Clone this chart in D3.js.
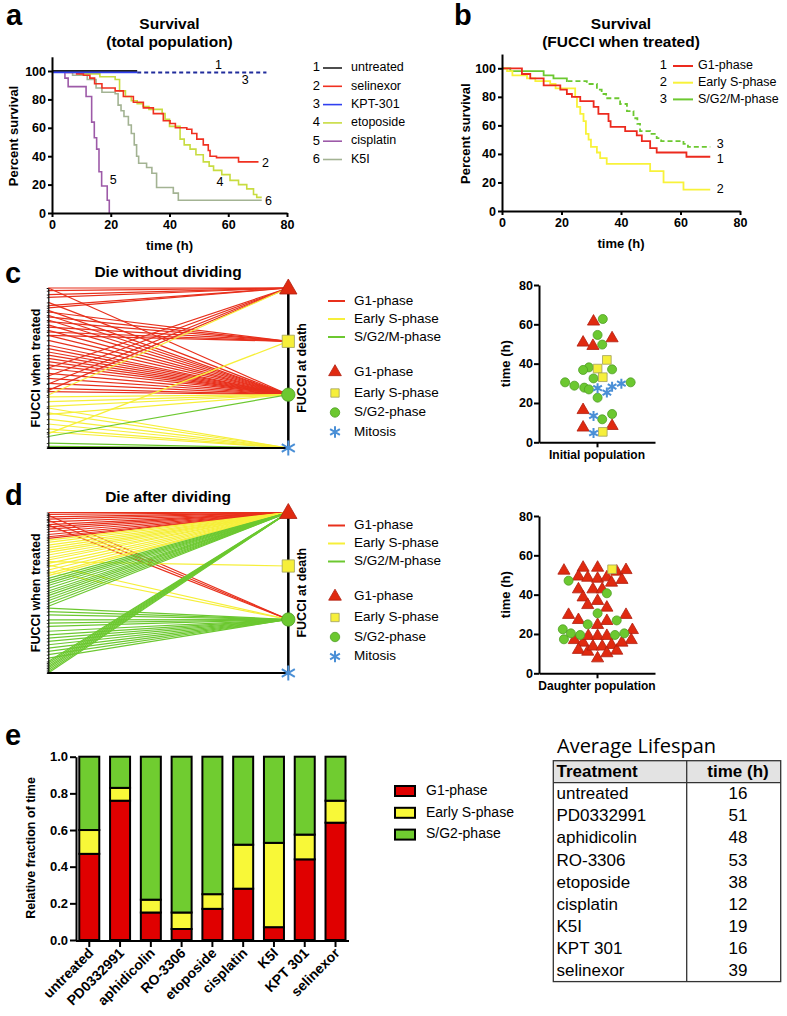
<!DOCTYPE html>
<html>
<head>
<meta charset="utf-8">
<script src="https://cdn.jsdelivr.net/npm/d3@7"></script>
<style>
body { margin: 0; background: #fff; }
svg { font-family: "Liberation Sans", Arial, sans-serif; }
</style>
</head>
<body>
<div id="fig"></div>
<script>
// ---------- panel a: survival, total population ([time h, % survival]) ----------
const untreatedA = [[0, 100], [29, 100]];
const kpt301A = [[0, 99], [29, 99]];
const kpt301CensA = [[29, 99], [73, 99]];
const selinexorA = [[0, 100], [5, 99], [8.4, 98], [10.7, 97], [12.9, 95], [14.5, 91], [17, 88], [21.5, 86], [24.3, 82], [27.7, 78], [31.1, 74], [34.5, 70], [37.9, 65], [40.2, 63], [42, 60], [45.9, 59], [47.6, 56], [49.3, 52], [51.5, 48], [53.2, 44], [53.8, 40], [56, 39], [63.5, 36], [70.3, 36]];
const etoposideA = [[0, 100], [9.5, 98], [16.3, 96], [21.5, 94], [23, 86], [25, 82], [27, 79], [29, 77], [31, 75], [33, 73], [37.5, 70], [38.5, 66], [40, 61], [43.6, 52], [45, 48], [47, 45], [49, 41], [51.5, 36], [53.5, 33], [55, 30], [57.8, 27], [60.6, 23], [63.5, 20], [66.3, 17], [68.6, 13], [69.7, 11], [71.4, 11]];
const cisplatinA = [[0, 100], [4.4, 95], [5.5, 89], [11.6, 82], [13.5, 64], [14.4, 53], [15.2, 45], [16, 29], [16.9, 19], [18.8, 9], [19.5, 0]];
const k5iA = [[0, 100], [7, 97], [12, 94], [15, 88], [17, 85], [21.5, 84], [22.5, 76], [23.5, 72], [24.5, 68], [26, 62], [27, 56], [28, 48], [28.8, 40], [29.5, 35], [32.2, 32], [34, 28], [35.6, 18], [41.3, 14], [43, 9], [71.4, 9]];
const legendA = ["untreated", "selinexor", "KPT-301", "etoposide", "cisplatin", "K5I"];
const curveLabelsA = [["1", 55.5, 104], ["2", 71.5, 35], ["3", 64.6, 93], ["4", 56, 21], ["5", 19.7, 23], ["6", 72.5, 8]];

// ---------- panel b: survival by FUCCI when treated ----------
const g1B = [[0, 100], [6.7, 96], [9.5, 93], [14, 88], [19.6, 85], [21.8, 82], [23.5, 80], [26.3, 77], [30.8, 73], [32.4, 68], [35.8, 63], [36.5, 59], [41.4, 56], [45.3, 53], [47, 49], [49.8, 44], [52, 41], [62, 38], [70, 38]];
const earlySB = [[0, 100], [1.7, 98], [3.5, 95], [8.4, 93], [11.2, 91], [16.2, 89], [18, 86], [24.6, 80], [25.2, 73], [26.3, 68], [27.4, 63], [28.2, 54], [29.1, 50], [29.9, 45], [31.9, 41], [33, 37], [35.2, 33], [49.8, 28], [54.3, 20], [61, 15], [70, 15]];
const sg2mB = [[0, 100], [2.8, 98], [14, 95], [17.3, 93], [21.8, 91], [28.5, 89], [31.9, 85], [33.5, 82], [35, 79], [39.7, 75], [42, 70], [44.2, 65], [45.5, 61], [46.4, 56], [49.8, 54], [52, 51], [53.5, 49], [61, 47], [62.5, 45], [70, 45]];
const sg2mDashFrom = 22;
const legendB = ["G1-phase", "Early S-phase", "S/G2/M-phase"];
const curveLabelsB = [["1", 72.2, 36], ["2", 72.2, 15], ["3", 72.2, 46.5]];

// ---------- panels c, d: FUCCI when treated (left %, top=0) -> FUCCI at death ----------
const deathPhases = ["G1", "S", "SG2", "M"];
const cLinesG1 = [[0, "G1"], [1.7, "G1"], [4.1, "G1"], [5.8, "G1"], [11, "G1"], [12.4, "G1"], [50, "G1"], [55, "G1"], [60, "G1"], [64, "G1"],
  [15, "S"], [18, "S"], [21, "S"], [24.4, "S"], [27.5, "S"], [29.6, "S"],
  [0, "SG2"], [9, "SG2"], [14, "SG2"], [17, "SG2"], [20, "SG2"], [23, "SG2"], [26.5, "SG2"], [29.6, "SG2"], [32.7, "SG2"], [35.8, "SG2"], [37.9, "SG2"], [40, "SG2"], [42, "SG2"], [44, "SG2"], [46, "SG2"], [48, "SG2"], [50.3, "SG2"], [53.4, "SG2"], [56.5, "SG2"], [59.6, "SG2"], [62.7, "SG2"], [64.8, "SG2"]];
const cLinesES = [[66.9, "G1"], [91, "S"], [68, "SG2"], [71, "SG2"], [74, "SG2"], [79, "SG2"], [75, "M"], [78, "M"], [82, "M"], [85, "M"], [88, "M"], [90, "M"]];
const cLinesSG2 = [[92.8, "SG2"], [96.9, "M"], [99, "M"], [100, "M"]];

const dLinesG1 = [[0, "G1"], [1.2, "G1"], [2.7, "G1"], [4.1, "G1"], [5.8, "G1"], [7.5, "G1"], [8.9, "G1"], [10.4, "G1"], [12, "G1"], [13.7, "G1"], [15.1, "G1"], [16.1, "G1"],
  [1.7, "SG2"], [4.8, "SG2"], [7.9, "SG2"]];
const dLinesES = [[17.2, "G1"], [18.6, "G1"], [20.3, "G1"], [21.9, "G1"], [23.4, "G1"], [24.8, "G1"], [26.5, "G1"], [28.2, "G1"], [29.6, "G1"], [31.7, "G1"], [33.7, "G1"], [35.8, "G1"], [37.9, "G1"], [39.3, "G1"],
  [30.6, "S"], [32.7, "SG2"], [36.9, "SG2"]];
const dLinesSG2 = [[41, "G1"], [42.6, "G1"], [44, "G1"], [45.5, "G1"], [47.2, "G1"], [48.9, "G1"], [50.3, "G1"], [51.8, "G1"], [53.4, "G1"], [55, "G1"], [56.7, "G1"], [58.4, "G1"],
  [92.8, "G1"], [93.8, "G1"], [94.8, "G1"], [95.9, "G1"], [96.9, "G1"], [97.9, "G1"], [99, "G1"], [100, "G1"],
  [59.6, "SG2"], [61.7, "SG2"], [63.8, "SG2"], [66.9, "SG2"], [68.9, "SG2"], [71, "SG2"], [74, "SG2"], [76.2, "SG2"], [78.3, "SG2"], [80.3, "SG2"], [82.4, "SG2"], [84.5, "SG2"], [86.5, "SG2"], [88.6, "SG2"], [90.7, "SG2"]];
const lineLegend = ["G1-phase", "Early S-phase", "S/G2/M-phase"];
const markerLegend = ["G1-phase", "Early S-phase", "S/G2-phase", "Mitosis"];

// ---------- swarm plots: [jitter (-1..1), time h] ----------
const swC_G1 = [[-0.06, 61.4], [-0.24, 50.7], [-0.07, 49], [0.26, 52.9], [-0.24, 16.4], [-0.24, 7.5], [0.26, 8.3]];
const swC_ES = [[0.17, 41.9], [0.01, 37.5], [0.10, 33.1], [0.10, 5.3]];
const swC_SG2 = [[0.10, 62.7], [0.01, 54.6], [0.09, 49.7], [-0.14, 38.1], [-0.24, 36.8], [0.26, 37.1], [-0.06, 32.5], [-0.55, 30.5], [-0.39, 28.8], [-0.22, 27.8], [-0.14, 26.9], [0.01, 22.7], [0.09, 11.7], [0.26, 14.4], [0.58, 30.5]];
const swC_M = [[0.01, 27.5], [0.17, 25.3], [0.26, 28.3], [0.42, 29.8], [-0.06, 13.4], [-0.06, 4.7]];

const swD_G1 = [[-0.57, 52.2], [-0.24, 53.7], [0.01, 53.7], [0.34, 51.7], [0.50, 52.5], [-0.32, 49.2], [-0.16, 48.6], [0.01, 48.1], [0.17, 48.8], [0.25, 46.1], [0.43, 47.5],
  [-0.32, 42.7], [-0.07, 42.7], [0.09, 42.7], [-0.24, 38.6], [0.01, 36.8], [-0.16, 34.7], [0.17, 33.4], [-0.49, 29.7], [-0.32, 27.1], [0.01, 24.6], [0.17, 26.6], [0.50, 29.7],
  [-0.39, 16.9], [-0.24, 15.6], [-0.15, 19], [0.01, 19], [0.17, 19], [0.61, 22], [0.59, 16.9], [-0.32, 11.9], [-0.16, 11], [-0.07, 13.6], [0.09, 13.6], [0.25, 14.4], [0.17, 10.2], [0.34, 11.5], [0.43, 15.6], [0.01, 7.6]];
const swD_ES = [[0.26, 52.9]];
const swD_SG2 = [[-0.49, 47.1], [0.17, 40.7], [0.01, 30.5], [-0.16, 24.9], [0.34, 26.9], [-0.59, 22.4], [-0.45, 20.3], [-0.29, 19.5], [-0.57, 17.3], [0.31, 19.5], [0.47, 20.3]];

// ---------- panel e ----------
const treatments = ["untreated", "PD0332991", "aphidicolin", "RO-3306", "etoposide", "cisplatin", "K5I", "KPT 301", "selinexor"];
const fracG1 = [0.47, 0.76, 0.15, 0.06, 0.17, 0.28, 0.07, 0.44, 0.64];
const fracES = [0.13, 0.07, 0.07, 0.09, 0.08, 0.24, 0.46, 0.135, 0.12];
const fracSG2 = [0.40, 0.17, 0.78, 0.85, 0.75, 0.48, 0.47, 0.425, 0.24];
const barLegend = ["G1-phase", "Early S-phase", "S/G2-phase"];
const lifespan = [16, 51, 48, 53, 38, 12, 19, 16, 39];

// ---------- colours ----------
const RED = "#e8301c", YEL = "#f6ef3a", GRN = "#6cc830", BLUE = "#4a8fd6";

const svg = d3.select("#fig").append("svg").attr("width", 787).attr("height", 1016);

function styleAxis(sel, fs) {
  sel.attr("font-family", null);
  sel.select(".domain").attr("stroke", "#000").attr("stroke-width", 2);
  sel.selectAll(".tick line").attr("stroke", "#000").attr("stroke-width", 2);
  sel.selectAll(".tick text").attr("font-size", fs).attr("font-weight", "bold").attr("fill", "#000");
}

function txt(x, y, s, o = {}) {
  const t = svg.append("text").attr("x", x).attr("y", y).text(s)
    .attr("font-size", o.size || 12).attr("font-weight", o.bold ? "bold" : null)
    .attr("text-anchor", o.anchor || "start").attr("dominant-baseline", o.base || "middle");
  if (o.rot) t.attr("transform", `rotate(${o.rot},${x},${y})`);
  if (o.family) t.attr("font-family", o.family);
  return t;
}

// panel letters
[["a", 6, 25], ["b", 454, 25], ["c", 5, 283], ["d", 5, 505], ["e", 5, 745]].forEach(([l, x, y]) =>
  txt(x, y, l, { size: 29, bold: true, base: "alphabetic" }));

// ---------- survival panels ----------
function survival(o) {
  const x = d3.scaleLinear().domain([0, 80]).range([o.x0, o.x1]);
  const y = d3.scaleLinear().domain([0, 100]).range([o.yb, o.yt]);
  const line = d3.line().x(d => x(d[0])).y(d => y(d[1])).curve(d3.curveStepAfter);
  o.series.forEach(s => svg.append("path").attr("d", line(s.data)).attr("fill", "none")
    .attr("stroke", s.color).attr("stroke-width", s.w || 1.6).attr("stroke-dasharray", s.dash || null));
  const ax = svg.append("g").attr("transform", `translate(0,${o.yb})`)
    .call(d3.axisBottom(x).tickValues([0, 20, 40, 60, 80]).tickSize(4).tickPadding(3).tickSizeOuter(0));
  styleAxis(ax, 12.5);
  const ay = svg.append("g").attr("transform", `translate(${o.x0},0)`)
    .call(d3.axisLeft(y.copy().domain([0, 110]).range([o.yb, o.yb - (o.yb - o.yt) * 1.1]))
      .tickValues([0, 20, 40, 60, 80, 100]).tickSize(4).tickPadding(2).tickSizeOuter(0));
  styleAxis(ay, 12.5);
  txt((o.x0 + o.x1) / 2, o.title1Y, o.title[0], { size: 15.5, bold: true, anchor: "middle" });
  txt((o.x0 + o.x1) / 2, o.title1Y + 18, o.title[1], { size: 15.5, bold: true, anchor: "middle" });
  txt((o.x0 + o.x1) / 2, o.yb + 34, "time (h)", { size: 13, bold: true, anchor: "middle" });
  txt(o.ylabX, (o.yb + o.yt) / 2 - 6, "Percent survival", { size: 13, bold: true, anchor: "middle", rot: -90 });
  o.labels.forEach(([s, t, v]) => txt(x(t), y(v), s, { size: 12.5 }));
}

survival({
  x0: 52, x1: 287, yb: 213, yt: 71, title1Y: 25, ylabX: 15,
  title: ["Survival", "(total population)"],
  series: [
    { data: k5iA, color: "#a3b393" },
    { data: etoposideA, color: "#c8dc40" },
    { data: selinexorA, color: "#f03020" },
    { data: cisplatinA, color: "#9d5aa8" },
    { data: untreatedA, color: "#222", w: 1.8 },
    { data: kpt301A, color: "#3040f0", w: 1.8 },
    { data: kpt301CensA, color: "#202c9c", w: 2, dash: "4,3" }
  ],
  labels: curveLabelsA
});

// legend a
const colA = ["#222", "#f03020", "#3040f0", "#c8dc40", "#9d5aa8", "#a3b393"];
legendA.forEach((name, i) => {
  const yy = 68 + i * 18.3;
  txt(320, yy, String(i + 1), { size: 13, anchor: "end" });
  svg.append("line").attr("x1", 323).attr("x2", 342).attr("y1", yy).attr("y2", yy).attr("stroke", colA[i]).attr("stroke-width", 1.6);
  txt(351, yy, name, { size: 12.5 });
});

const sg2mSolid = sg2mB.filter(d => d[0] < sg2mDashFrom);
sg2mSolid.push([sg2mDashFrom, sg2mSolid[sg2mSolid.length - 1][1]]);
survival({
  x0: 502, x1: 740, yb: 211, yt: 68.3, title1Y: 25, ylabX: 467,
  title: ["Survival", "(FUCCI when treated)"],
  series: [
    { data: sg2mB.filter(d => d[0] >= sg2mDashFrom - 0.2).map((d, i) => i === 0 ? [sg2mDashFrom, sg2mSolid[sg2mSolid.length - 1][1]] : d), color: GRN, w: 1.8, dash: "5,3" },
    { data: sg2mSolid, color: GRN, w: 1.8 },
    { data: earlySB, color: "#f8f23a", w: 1.8 },
    { data: g1B, color: "#ec2a1e", w: 1.8 }
  ],
  labels: curveLabelsB
});
const colB = ["#ec2a1e", "#f8f23a", GRN];
legendB.forEach((name, i) => {
  const yy = 66 + i * 16.7;
  txt(667, yy, String(i + 1), { size: 13, anchor: "end" });
  svg.append("line").attr("x1", 673).attr("x2", 693).attr("y1", yy).attr("y2", yy).attr("stroke", colB[i]).attr("stroke-width", 2);
  txt(698, yy, name, { size: 12.5 });
});

// ---------- symbols ----------
function marker(kind, x, y, size) {
  const types = { G1: d3.symbolTriangle, S: d3.symbolSquare, SG2: d3.symbolCircle, M: d3.symbolAsterisk };
  const fill = { G1: "#e02a10", S: YEL, SG2: GRN, M: "none" };
  const stroke = { G1: "#b02010", S: "#a0a060", SG2: "#4f9e25", M: BLUE };
  svg.append("path").attr("d", d3.symbol(types[kind], size)())
    .attr("transform", `translate(${x},${y})`)
    .attr("fill", fill[kind]).attr("stroke", stroke[kind]).attr("stroke-width", kind === "M" ? 2 : 0.8);
}

// ---------- transition panels ----------
function transitions(o) {
  const x = d3.scaleLinear().domain([0, 1]).range([48.3, 288.3]);
  const yL = d3.scaleLinear().domain([0, 100]).range([o.top, o.bottom]);
  const yR = d3.scalePoint().domain(deathPhases).range([o.top, o.bottom]);
  o.groups.forEach(gr => gr.lines.forEach(([p, d]) =>
    svg.append("line").attr("x1", x(0)).attr("y1", yL(p)).attr("x2", x(1)).attr("y2", yR(d))
      .attr("stroke", gr.color).attr("stroke-width", 1.2)));
  const allPos = o.groups.flatMap(g => g.lines.map(l => l[0]));
  const al = svg.append("g").attr("transform", `translate(${x(0)},0)`)
    .call(d3.axisLeft(yL).tickValues(allPos).tickSize(1.5).tickFormat("").tickSizeOuter(0));
  al.select(".domain").attr("stroke", "#000").attr("stroke-width", 1.2);
  al.selectAll(".tick line").attr("stroke", "#000").attr("stroke-width", 0.8);
  svg.append("line").attr("x1", x(0) - 1).attr("x2", x(1)).attr("y1", o.bottom).attr("y2", o.bottom).attr("stroke", "#000").attr("stroke-width", 2);
  svg.append("line").attr("x1", x(1)).attr("x2", x(1)).attr("y1", o.top).attr("y2", o.bottom).attr("stroke", "#000").attr("stroke-width", 2.5);
  const big = { G1: 130, S: 150, SG2: 140, M: 160 };
  deathPhases.forEach(p => marker(p, x(1), yR(p) + (p === "G1" ? 1 : 0), big[p]));
  txt(168, o.top - 15, o.title, { size: 15.5, bold: true, anchor: "middle" });
  const mid = (o.top + o.bottom) / 2;
  txt(37, mid, "FUCCI when treated", { size: 12.5, bold: true, anchor: "middle", rot: -90 });
  txt(303, mid, "FUCCI at death", { size: 12.5, bold: true, anchor: "middle", rot: -90 });
  // legend
  const rows = [13, 31, 49, 84, 105, 124.5, 144];
  [RED, YEL, GRN].forEach((c, i) => {
    const yy = o.top + rows[i];
    svg.append("line").attr("x1", 328).attr("x2", 345).attr("y1", yy).attr("y2", yy).attr("stroke", c).attr("stroke-width", 2);
    txt(354, yy, lineLegend[i], { size: 13.5 });
  });
  deathPhases.forEach((p, i) => {
    const yy = o.top + rows[i + 3];
    marker(p, 335, yy, p === "M" ? 90 : 70);
    txt(354, yy, markerLegend[i], { size: 13.5 });
  });
}

transitions({ top: 288, bottom: 448, title: "Die without dividing",
  groups: [{ color: RED, lines: cLinesG1 }, { color: YEL, lines: cLinesES }, { color: GRN, lines: cLinesSG2 }] });
transitions({ top: 512.5, bottom: 673, title: "Die after dividing",
  groups: [{ color: RED, lines: dLinesG1 }, { color: YEL, lines: dLinesES }, { color: GRN, lines: dLinesSG2 }] });

// ---------- swarm panels ----------
function swarm(o) {
  const x = d3.scaleLinear().domain([-1, 1]).range([539, 655]);
  const y = d3.scaleLinear().domain([0, 80]).range([o.y0, o.y80]);
  const ax = svg.append("g").attr("transform", `translate(0,${o.y0})`)
    .call(d3.axisBottom(x).tickValues([0]).tickFormat("").tickSize(5).tickSizeOuter(0));
  styleAxis(ax, 11);
  const ay = svg.append("g").attr("transform", "translate(539,0)")
    .call(d3.axisLeft(y).tickValues([0, 20, 40, 60, 80]).tickSize(5).tickPadding(1).tickSizeOuter(0));
  styleAxis(ay, 12.5);
  txt(597, o.y0 + 14, o.label, { size: 12, bold: true, anchor: "middle" });
  txt(507, (o.y0 + o.y80) / 2, "time (h)", { size: 13, bold: true, anchor: "middle", rot: -90 });
  o.sets.forEach(([kind, pts]) => pts.forEach(d => marker(kind, x(d[0]), y(d[1]), kind === "M" ? 70 : kind === "S" ? 75 : 64)));
}
swarm({ y0: 442.3, y80: 285, label: "Initial population", sets: [["SG2", swC_SG2], ["G1", swC_G1], ["S", swC_ES], ["M", swC_M]] });
swarm({ y0: 673.3, y80: 516, label: "Daughter population", sets: [["G1", swD_G1], ["SG2", swD_SG2], ["S", swD_ES]] });

// ---------- panel e bars ----------
const xb = d3.scaleBand().domain(treatments).range([76.2, 348.6]).paddingInner(0.35).paddingOuter(0.1);
const yb = d3.scaleLinear().domain([0, 1]).range([940, 756.7]);
const stacks = d3.stack().keys(["g1", "es", "sg2"])(treatments.map((t, i) => ({ t, g1: fracG1[i], es: fracES[i], sg2: fracSG2[i] })));
const barCol = ["#e00000", "#f8f838", "#70cc30"];
stacks.forEach((layer, li) => {
  svg.append("g").selectAll("rect").data(layer).join("rect")
    .attr("x", d => xb(d.data.t)).attr("width", xb.bandwidth())
    .attr("y", d => yb(d[1])).attr("height", d => yb(d[0]) - yb(d[1]))
    .attr("fill", barCol[li]).attr("stroke", "#000").attr("stroke-width", 2);
});
const axE = svg.append("g").attr("transform", "translate(0,941)")
  .call(d3.axisBottom(xb).tickSize(6).tickSizeOuter(0));
styleAxis(axE, 14);
axE.select(".domain").attr("d", "M76,0H349");
axE.selectAll(".tick text").attr("text-anchor", "end").attr("dy", null)
  .attr("transform", "translate(5,13) rotate(-45)").attr("y", 0).attr("x", 0);
const ayE = svg.append("g").attr("transform", "translate(76,0)")
  .call(d3.axisLeft(yb).tickValues([0, 0.2, 0.4, 0.6, 0.8, 1]).tickFormat(d3.format(".1f")).tickSize(6).tickPadding(2).tickSizeOuter(0));
styleAxis(ayE, 13);
txt(32, 848, "Relative fraction of time", { size: 12.5, bold: true, anchor: "middle", rot: -90 });

barLegend.forEach((name, i) => {
  const yy = 791 + i * 21.8;
  svg.append("rect").attr("x", 395).attr("y", yy - 5).attr("width", 20).attr("height", 10)
    .attr("fill", barCol[i]).attr("stroke", "#000").attr("stroke-width", 2);
  txt(426, yy, name, { size: 14 });
});

// ---------- lifespan table ----------
const tx0 = 553.3, tx1 = 780.7, txm = 686.7, ty0 = 760.7, tyh = 782.7, rowH = 22.1;
const ty1 = tyh + rowH * treatments.length;
txt(557, 748, "Average Lifespan", { size: 20, family: "'Open Sans', sans-serif" });
svg.append("rect").attr("x", tx0).attr("y", ty0).attr("width", tx1 - tx0).attr("height", tyh - ty0).attr("fill", "#e3e3e3");
svg.append("rect").attr("x", tx0).attr("y", ty0).attr("width", tx1 - tx0).attr("height", ty1 - ty0)
  .attr("fill", "none").attr("stroke", "#333").attr("stroke-width", 1.3);
svg.append("line").attr("x1", tx0).attr("x2", tx1).attr("y1", tyh).attr("y2", tyh).attr("stroke", "#333").attr("stroke-width", 1.3);
svg.append("line").attr("x1", txm).attr("x2", txm).attr("y1", ty0).attr("y2", ty1).attr("stroke", "#333").attr("stroke-width", 1.3);
txt(556.5, (ty0 + tyh) / 2 + 1, "Treatment", { size: 17, bold: true });
txt(738, (ty0 + tyh) / 2 + 1, "time (h)", { size: 17, bold: true, anchor: "middle" });
treatments.forEach((t, i) => {
  const yy = tyh + rowH * (i + 0.5) + 1;
  txt(556.5, yy, t, { size: 17 });
  txt(738, yy, String(lifespan[i]), { size: 17, anchor: "middle" });
});
</script>
</body>
</html>
